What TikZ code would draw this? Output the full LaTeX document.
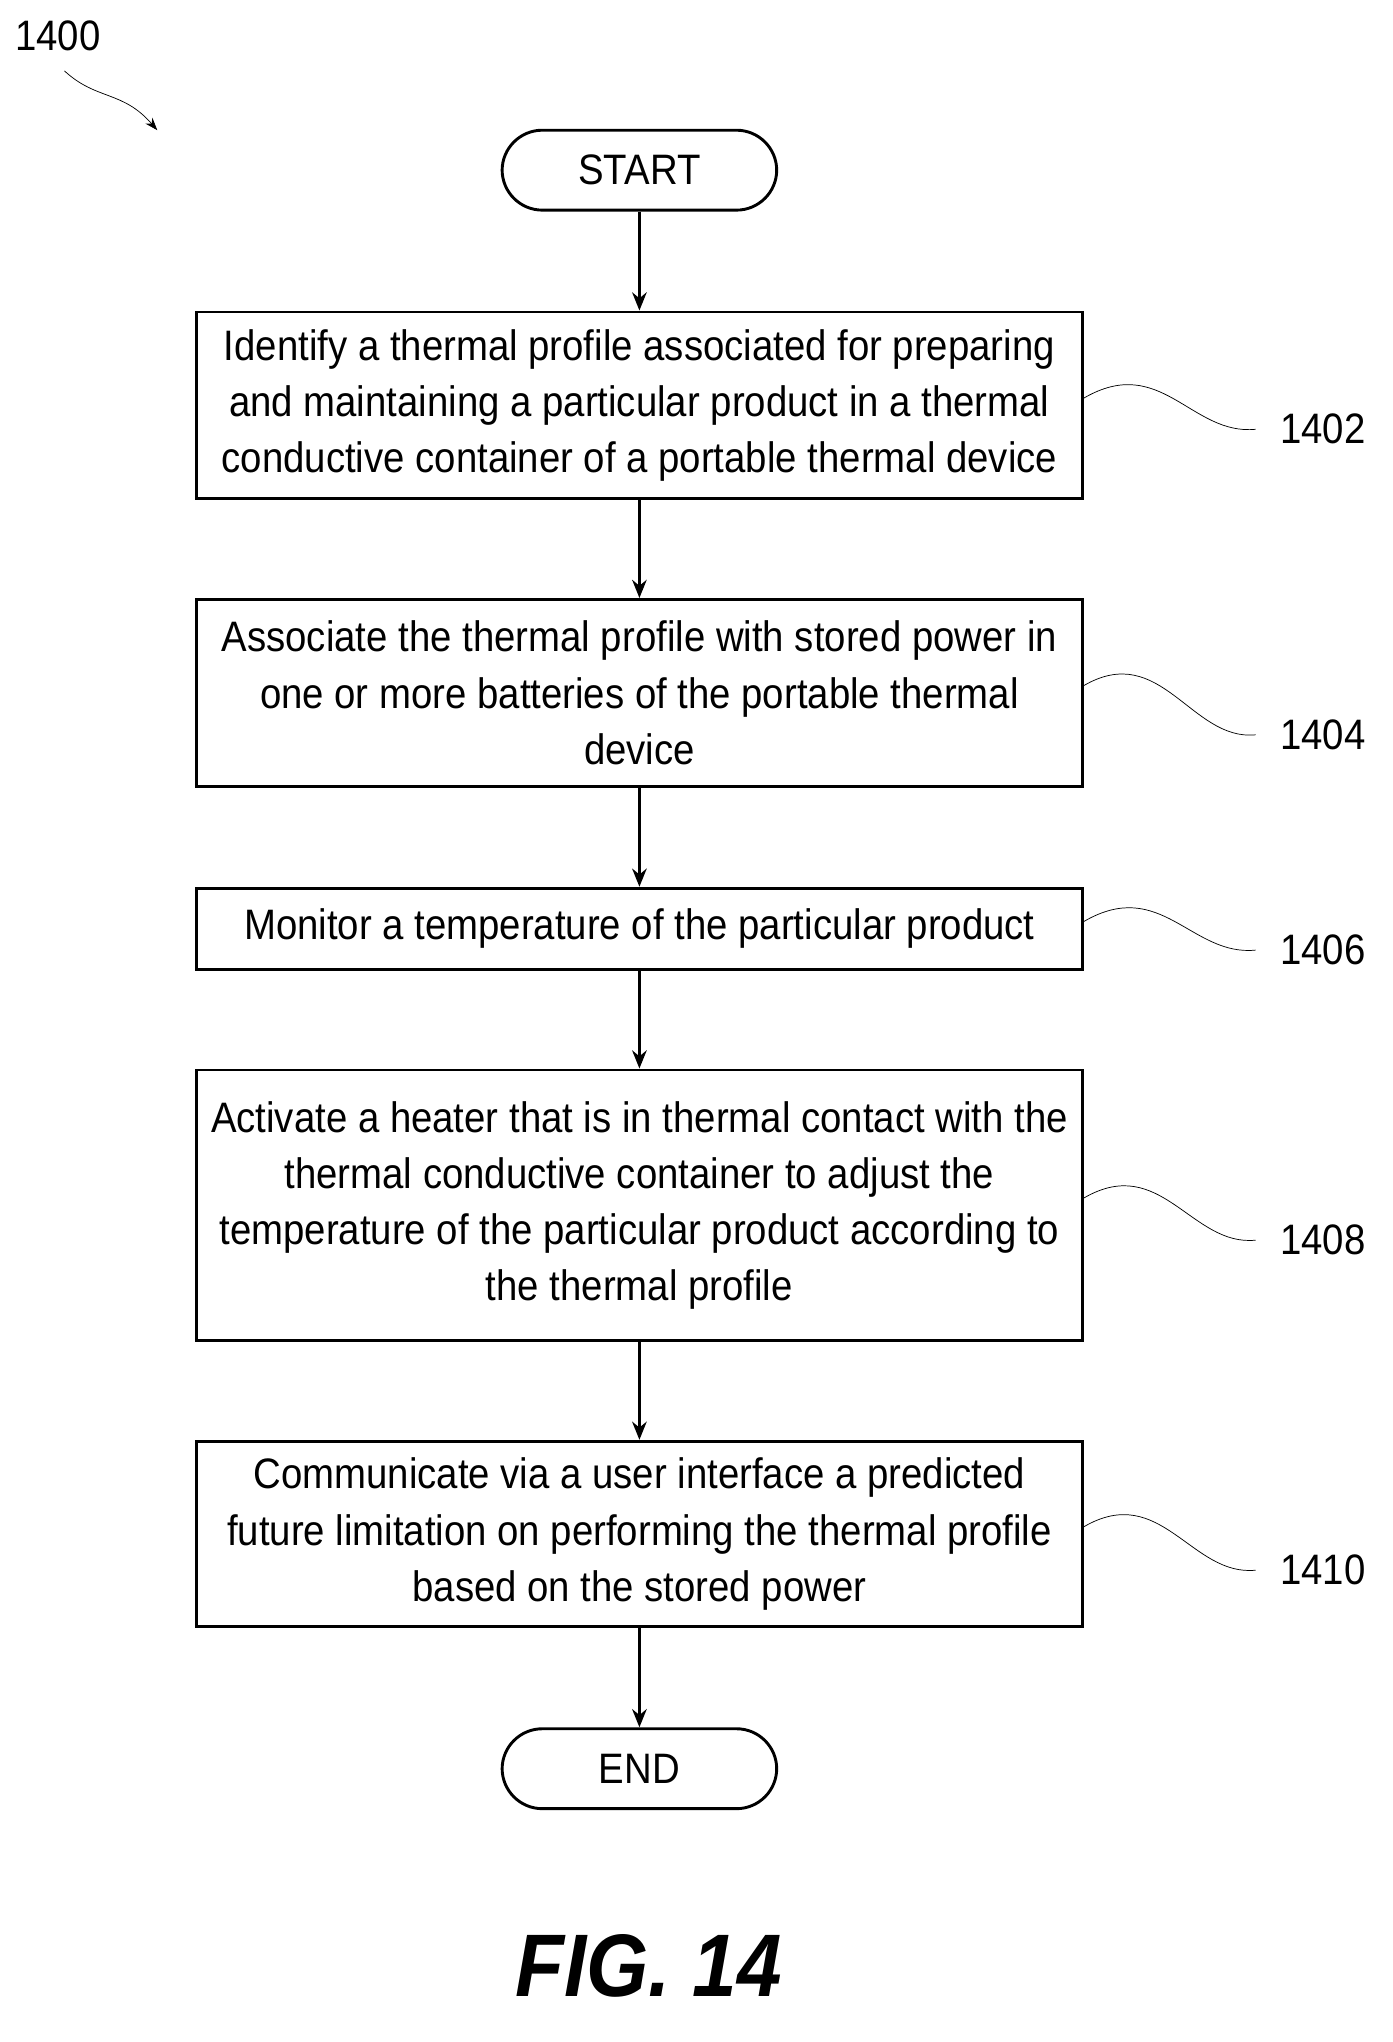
\documentclass[tikz,border=0pt]{standalone}
\usepackage{fontspec}
\setmainfont{Liberation Sans}[FakeStretch=0.9]
\usetikzlibrary{positioning,arrows.meta}
\begin{document}
\begin{tikzpicture}[x=0.025cm,y=-0.025cm,
  proc/.style={draw,line width=1.6pt,minimum width=687*0.025cm,align=center,
    font=\fontsize{23.5}{31}\selectfont,inner sep=0pt},
  term/.style={draw,line width=1.6pt,rounded corners=0.78cm,minimum width=213*0.025cm,
    minimum height=62*0.025cm,font=\fontsize{23.5}{26}\selectfont},
  flow/.style={-{Stealth[length=10pt,width=8pt]},line width=1.6pt},
  wave/.style={thin},
  ref/.style={font=\fontsize{23.5}{26}\selectfont}]
\useasboundingbox (0,0) rectangle (1080,1584);
%
\node[term] (start) at (496,132) {START};
\node[proc,minimum height=145*0.025cm] (s1402) at (496,314.5) {Identify a thermal profile associated for preparing\\and maintaining a particular product in a thermal\\conductive container of a portable thermal device};
\node[proc,minimum height=145*0.025cm] (s1404) at (496,537.5) {Associate the thermal profile with stored power in\\one or more batteries of the portable thermal\\device};
\node[proc,minimum height=63*0.025cm] (s1406) at (496,720.5) {Monitor a temperature of the particular product};
\node[proc,minimum height=210*0.025cm] (s1408) at (496,935) {Activate a heater that is in thermal contact with the\\thermal conductive container to adjust the\\temperature of the particular product according to\\the thermal profile};
\node[proc,minimum height=144*0.025cm] (s1410) at (496,1190) {Communicate via a user interface a predicted\\future limitation on performing the thermal profile\\based on the stored power};
\node[term] (end) at (496,1372) {END};
%
\draw[flow] (start) -- (s1402);
\draw[flow] (s1402) -- (s1404);
\draw[flow] (s1404) -- (s1406);
\draw[flow] (s1406) -- (s1408);
\draw[flow] (s1408) -- (s1410);
\draw[flow] (s1410) -- (end);
%
% Etiquettes :
\foreach \n/\y in {1402/333,1404/570,1406/737,1408/962,1410/1218}{
  \node[ref,anchor=west] (r\n) at (988,\y) {\n};
  \draw[wave] ([yshift=4pt]s\n.east) .. controls +(60,-35) and +(-50,5) .. ([xshift=-10pt]r\n.west);
}
\node[ref] (fig) at (45,28) {1400};
\coordinate (figtip) at (122,101);
\draw[wave,-{Stealth[length=7pt,width=5pt]}] (50,55) .. controls (75,78) and (95,70) .. (figtip);
\node[font=\fontsize{49}{52}\selectfont\bfseries\itshape] (title) at (503,1525) {FIG. 14};
\end{tikzpicture}
\end{document}
